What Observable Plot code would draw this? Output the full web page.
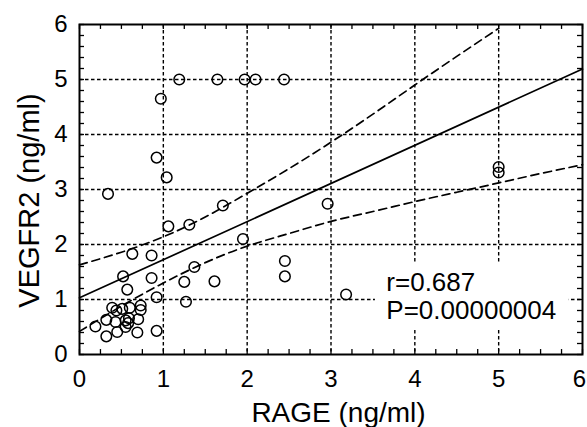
<!DOCTYPE html>
<html><head><meta charset="utf-8">
<script src="https://cdn.jsdelivr.net/npm/d3@7"></script>
<script src="https://cdn.jsdelivr.net/npm/@observablehq/plot@0.6"></script>
<style>html,body{margin:0;padding:0;background:#fff;} #chart svg{display:block}</style>
</head><body><div id="chart"></div>
<script>
const rage = [1.19,1.645,1.97,2.10,2.44,0.97,0.92,1.04,0.34,1.71,1.06,1.31,1.95,0.63,0.86,1.37,0.52,0.86,1.25,1.61,0.57,0.92,1.27,0.92,2.45,2.45,2.96,3.18,5.0,5.0,
  0.39,0.51,0.60,0.73,0.73,0.44,0.32,0.43,0.55,0.59,0.70,0.58,0.19,0.55,0.32,0.45,0.69];
const vegfr2 = [5,5,5,5,5,4.65,3.58,3.22,2.92,2.71,2.33,2.36,2.10,1.83,1.80,1.59,1.42,1.39,1.32,1.33,1.18,1.04,0.96,0.43,1.70,1.42,2.74,1.09,3.41,3.31,
  0.85,0.83,0.85,0.89,0.81,0.80,0.63,0.59,0.62,0.66,0.64,0.57,0.51,0.50,0.33,0.41,0.40];
const xTicks = [0,1,2,3,4,5];
const xTickLast = [6];
const yTicks = [0,1,2,3,4,5,6];
const gridVals = [1,2,3,4,5];
const fitX = [0,6];
const fitY = [1.03,5.19];
const upperX = [0,0.5,1,1.5,2,2.5,3,3.5,4,4.5,5];
const upperY = [1.63,1.86,2.14,2.5,2.93,3.38,3.86,4.37,4.9,5.42,5.93];
const lowerX = [0,0.5,1,1.5,2,2.5,3,3.5,4,4.5,5,5.5,6];
const lowerY = [0.42,0.88,1.3,1.67,1.97,2.2,2.42,2.6,2.78,2.95,3.12,3.29,3.45];
const annotation = ["r=0.687","P=0.00000004"];
const xTitle = "RAGE (ng/ml)";
const yTitle = "VEGFR2 (ng/ml)";

const pts = rage.map((x,i)=>({x, y: vegfr2[i]}));
const fit = fitX.map((x,i)=>({x, y: fitY[i]}));
const upper = upperX.map((x,i)=>({x, y: upperY[i]}));
const lower = lowerX.map((x,i)=>({x, y: lowerY[i]}));
const minorX = d3.range(0, 6.001, 0.25);
const minorY = d3.range(0, 6.001, 0.2);
const ink = "black";

const chart = Plot.plot({
  width: 587, height: 427,
  marginLeft: 79, marginRight: 5, marginTop: 24, marginBottom: 73,
  x: {domain: [0,6]}, y: {domain: [0,6]},
  style: {fontFamily: "'Liberation Sans', Arial, sans-serif", fontSize: "24px", color: ink, background: "white"},
  marks: [
    Plot.gridX(gridVals, {stroke: ink, strokeOpacity: 1, strokeWidth: 1.4, strokeDasharray: "3.5,2.5"}),
    Plot.gridY(gridVals, {stroke: ink, strokeOpacity: 1, strokeWidth: 1.4, strokeDasharray: "3.5,2.5"}),
    Plot.rect([0], {x1: 3.53, x2: 5.84, y1: 0.44, y2: 1.67, fill: "white"}),
    Plot.line(lower, {x: "x", y: "y", stroke: ink, strokeWidth: 1.7, strokeDasharray: "8,5", curve: "natural"}),
    Plot.line(upper, {x: "x", y: "y", stroke: ink, strokeWidth: 1.7, strokeDasharray: "8,5", curve: "natural"}),
    Plot.line(fit, {x: "x", y: "y", stroke: ink, strokeWidth: 1.7}),
    Plot.dot(pts, {x: "x", y: "y", r: 5.3, stroke: ink, strokeWidth: 1.5, fill: "none"}),
    Plot.ruleX(minorX, {y1: 0, y2: 0.09, stroke: ink, strokeWidth: 1.3}),
    Plot.ruleX(minorX, {y1: 5.91, y2: 6, stroke: ink, strokeWidth: 1.3}),
    Plot.ruleY(minorY, {x1: 0, x2: 0.06, stroke: ink, strokeWidth: 1.3}),
    Plot.ruleY(minorY, {x1: 5.94, x2: 6, stroke: ink, strokeWidth: 1.3}),
    Plot.frame({stroke: ink, strokeWidth: 2}),
    Plot.axisX(xTicks, {tickSize: 0, tickPadding: 15, fontSize: 24, label: null, tickFormat: d => String(d)}),
    Plot.axisX(xTickLast, {tickSize: 0, tickPadding: 15, fontSize: 24, label: null, dx: -3, tickFormat: d => String(d)}),
    Plot.axisY(yTicks, {tickSize: 0, tickPadding: 12, fontSize: 24, label: null, tickFormat: d => String(d)}),
    Plot.text([annotation.join("\n")], {x: 3.66, y: 0.64, textAnchor: "start", lineAnchor: "bottom", lineHeight: 1.08, fontSize: 26, fill: ink}),
    Plot.text([xTitle], {frameAnchor: "bottom", textAnchor: "middle", dx: 7.5, dy: 59, lineAnchor: "middle", fontSize: 28, fill: ink}),
    Plot.text([yTitle], {frameAnchor: "left", textAnchor: "middle", rotate: -90, dx: -50, dy: 11, lineAnchor: "middle", fontSize: 29, fill: ink})
  ]
});
document.getElementById("chart").appendChild(chart);
</script>
</body></html>
